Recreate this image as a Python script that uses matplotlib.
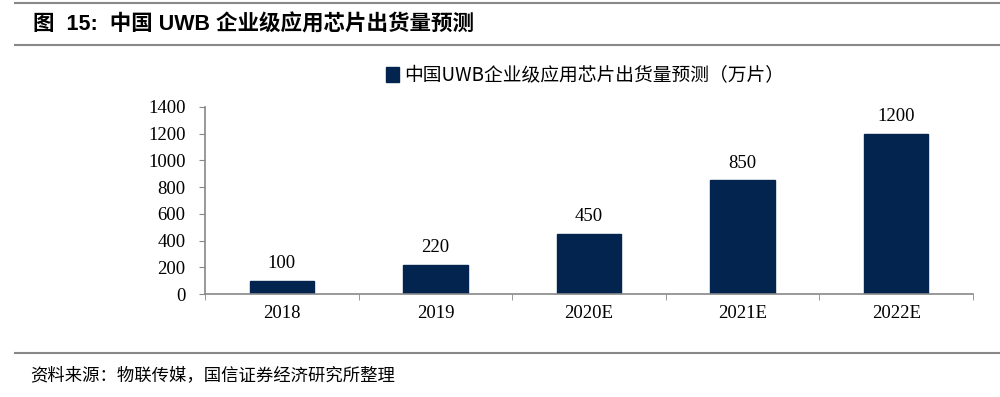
import numpy as np
import matplotlib
matplotlib.use("Agg")
import matplotlib.pyplot as plt
from matplotlib.lines import Line2D

# datos del grafico
years = ["2018", "2019", "2020E", "2021E", "2022E"]
shipments = [100, 220, 450, 850, 1200]
yticks = [0, 200, 400, 600, 800, 1000, 1200, 1400]
series_name = "中国UWB企业级应用芯片出货量预测（万片）"
title = "图  15:  中国 UWB 企业级应用芯片出货量预测"
source = "资料来源：物联传媒，国信证券经济研究所整理"

navy = "#03244f"
grey = "#888888"
num_font = ["Liberation Serif", "Noto Sans CJK SC"]
cjk_font = ["Noto Sans CJK SC", "DejaVu Sans"]

fig = plt.figure(figsize=(10, 3.97), dpi=100)

# lineas de cabecera y pie
fig.add_artist(Line2D([0.015, 1.0], [0.992, 0.992], color=grey, lw=1.5))
fig.add_artist(Line2D([0.015, 1.0], [0.887, 0.887], color=grey, lw=1.5))
fig.add_artist(Line2D([0.015, 1.0], [0.111, 0.111], color=grey, lw=1.5))
fig.text(0.033, 0.938, title, fontsize=15.5, fontweight="bold",
         family=["Liberation Sans", "Noto Sans CJK SC"], va="center")
fig.text(0.030, 0.055, source, fontsize=12.5, family=cjk_font, va="center")

ax = fig.add_axes([0.205, 0.2594, 0.768, 0.4711])
x = np.arange(len(years))
bars = ax.bar(x, shipments, width=0.42, color=navy, edgecolor=navy, label=series_name)
for b, v in zip(bars, shipments):
    ax.text(b.get_x() + b.get_width() / 2, v + 65, str(v), ha="center", va="bottom",
            fontsize=13.5, family=num_font)

ax.set_xlim(-0.5, len(years) - 0.5)
ax.set_ylim(0, 1400)
ax.set_yticks(yticks)
ax.set_yticklabels([str(t) for t in yticks], fontsize=13.5, family=num_font)
ax.set_xticks(x)
ax.set_xticklabels(years, fontsize=13.5, family=num_font)
ax.tick_params(axis="x", length=0, pad=8)
ax.tick_params(axis="y", length=4, color=grey, pad=10)
# marcas entre categorias
ax.set_xticks(np.arange(len(years) + 1) - 0.5, minor=True)
ax.tick_params(axis="x", which="minor", length=4, color=grey)

for s in ["top", "right"]:
    ax.spines[s].set_visible(False)
for s in ["left", "bottom"]:
    ax.spines[s].set_color(grey)
    ax.spines[s].set_linewidth(1.2)

leg = fig.legend(handles=[bars], labels=[series_name], loc="center",
                 bbox_to_anchor=(0.585, 0.81), frameon=False, handlelength=0.7,
                 handleheight=0.9, handletextpad=0.3,
                 prop={"family": cjk_font, "size": 13.5})

fig.savefig("out.png", dpi=100)
